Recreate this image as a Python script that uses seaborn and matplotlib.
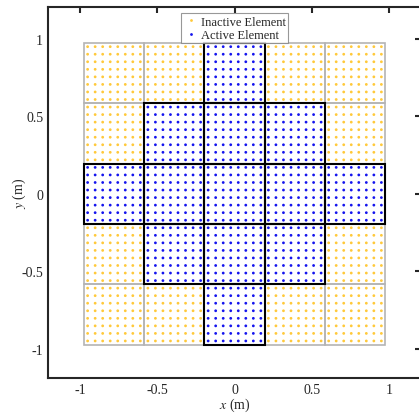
import matplotlib
matplotlib.use("Agg")
import matplotlib.pyplot as plt
from matplotlib.patches import Rectangle
import pandas as pd
import seaborn as sns

# 5x5 tile layout, 1 = active tile, 0 = inactive tile
active_map = [
    [0, 0, 1, 0, 0],
    [0, 1, 1, 1, 0],
    [1, 1, 1, 1, 1],
    [0, 1, 1, 1, 0],
    [0, 0, 1, 0, 0],
]
tile_size = 0.39          # metres per tile
elements_per_side = 8     # elements per tile row / column
x_ticks = [-1, -0.5, 0, 0.5, 1]
y_ticks = [-1, -0.5, 0, 0.5, 1]
x_tick_labels = ["-1", "-0.5", "0", "0.5", "1"]
y_tick_labels = ["-1", "-0.5", "0", "0.5", "1"]
state_labels = {0: "Inactive Element", 1: "Active Element"}

sns.set_style("white")
plt.rcParams["font.family"] = ["Liberation Serif", "DejaVu Serif"]
plt.rcParams["mathtext.fontset"] = "stix"

n_tiles = len(active_map)
half = n_tiles * tile_size / 2
pitch = tile_size / elements_per_side

# Build element positions per tile
rows = []
for r in range(n_tiles):
    for c in range(n_tiles):
        x0 = -half + c * tile_size
        y0 = half - (r + 1) * tile_size
        for i in range(elements_per_side):
            for j in range(elements_per_side):
                rows.append({"x": x0 + (i + 0.5) * pitch,
                             "y": y0 + (j + 0.5) * pitch,
                             "state": state_labels[active_map[r][c]],
                             "tile_x": x0, "tile_y": y0})
df = pd.DataFrame(rows)

fig = plt.figure(figsize=(4.19, 4.14), dpi=100)
ax = fig.add_axes([48 / 419, 35 / 414, 373 / 419, 371 / 414])

sns.scatterplot(data=df, x="x", y="y", hue="state",
                hue_order=["Inactive Element", "Active Element"],
                palette={"Inactive Element": "#FFC93A",
                         "Active Element": "#1414EE"},
                marker="o", s=4, linewidth=0, ax=ax, zorder=2)

# Tile outlines: inactive grey first, then active black on top
tiles = df.drop_duplicates(["tile_x", "tile_y"])
for _, t in tiles.iterrows():
    if t["state"] == "Inactive Element":
        ax.add_patch(Rectangle((t["tile_x"], t["tile_y"]), tile_size, tile_size,
                               fill=False, edgecolor="#b4b4b4", lw=1.2, zorder=3))
for _, t in tiles.iterrows():
    if t["state"] == "Active Element":
        ax.add_patch(Rectangle((t["tile_x"], t["tile_y"]), tile_size, tile_size,
                               fill=False, edgecolor="black", lw=1.5, zorder=4))

ax.set_xlim(-1.207, 1.207)
ax.set_ylim(-1.19, 1.207)
ax.set_xticks(x_ticks)
ax.set_xticklabels(x_tick_labels)
ax.set_yticks(y_ticks)
ax.set_yticklabels(y_tick_labels)
ax.tick_params(direction="in", length=4, width=1.5, top=True, right=True,
               labelsize=10, colors="#262626", pad=3.5)
for sp in ax.spines.values():
    sp.set_linewidth(1.5)
    sp.set_color("#262626")

ax.set_xlabel("$x$ (m)", fontsize=10, labelpad=0)
ax.set_ylabel("$y$ (m)", fontsize=10, labelpad=-5)

leg = ax.legend(loc="upper center", bbox_to_anchor=(0.5, 0.99), fontsize=9,
                frameon=True, fancybox=False, edgecolor="#7f7f7f",
                handletextpad=0.2, borderpad=0.2, labelspacing=0.1,
                handlelength=1.2, markerscale=1.0, borderaxespad=0.2)
leg.get_frame().set_linewidth(0.8)

fig.savefig("out.png", dpi=100)
